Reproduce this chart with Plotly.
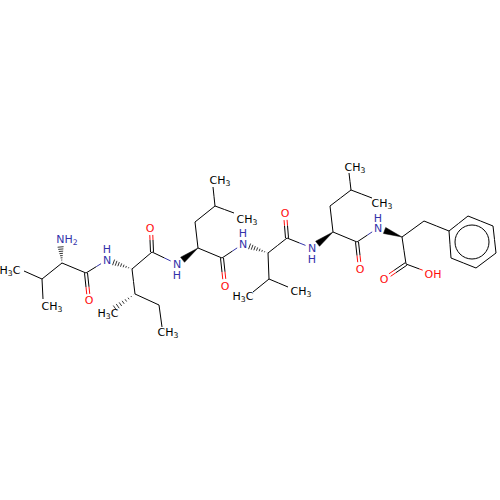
import numpy as np
import plotly.graph_objects as go

# atoms (pixel-like units, y pointing down)
atom_x = [24, 42, 43, 62, 60, 86, 89, 107, 132, 152, 151, 135, 115, 159, 162,
          177, 198, 195, 215, 213, 234, 222, 225, 243, 268, 287, 285, 269, 253, 288,
          312, 333, 330, 351, 349, 372, 357, 360, 378, 402, 406, 433, 384, 424,
          449, 468, 493, 496, 476, 451]
atom_y = [271, 279, 299, 263, 240, 273, 301, 260, 269, 252, 228, 294, 308, 305, 327,
          264, 248, 222, 206, 187, 213, 258, 286, 244, 253, 238, 213, 279, 292, 287,
          248, 232, 206, 190, 173, 198, 242, 269, 228, 237, 264, 274, 279, 221,
          231, 216, 226, 253, 268, 258]
atom_elem = ["C", "C", "C", "C", "N", "C", "O", "N", "C", "C", "O", "C", "C", "C", "C",
             "N", "C", "C", "C", "C", "C", "C", "O", "N", "C", "C", "O", "C", "C", "C",
             "N", "C", "C", "C", "C", "C", "C", "O", "N", "C", "C", "OH", "O", "C",
             "C", "C", "C", "C", "C", "C"]

single_bonds = [(0, 1), (1, 2), (1, 3), (3, 5), (5, 7), (8, 9), (8, 11), (11, 13), (13, 14),
                (9, 15), (16, 17), (17, 18), (18, 19), (18, 20), (16, 21), (21, 23),
                (24, 25), (24, 27), (27, 28), (27, 29), (25, 30), (31, 32), (32, 33),
                (33, 34), (33, 35), (31, 36), (36, 38), (39, 40), (40, 41), (39, 43),
                (43, 44), (44, 45), (45, 46), (46, 47), (47, 48), (48, 49), (49, 44)]
double_bonds = [(5, 6), (9, 10), (21, 22), (25, 26), (36, 37), (40, 42)]
hash_bonds = [(3, 4), (8, 7), (11, 12), (24, 23)]
wedge_bonds = [(16, 15), (31, 30), (39, 38)]

label_text = ["H<sub>3</sub>C", "CH<sub>3</sub>", "NH<sub>2</sub>", "O", "N", "H", "O",
              "H<sub>3</sub>C", "CH<sub>3</sub>", "N", "H", "CH<sub>3</sub>", "CH<sub>3</sub>",
              "O", "N", "H", "O", "H<sub>3</sub>C", "CH<sub>3</sub>", "N", "H",
              "CH<sub>3</sub>", "CH<sub>3</sub>", "O", "N", "H", "OH", "O"]
label_x = [10, 52, 67, 89, 107, 107, 150, 108, 168, 177, 177, 220, 247, 225, 243, 243, 285,
           243, 301, 312, 312, 355, 382, 360, 378, 378, 433, 384]
label_y = [271, 307, 240, 301, 261, 250, 229, 314, 333, 265, 276, 181, 220, 287, 245, 234,
           214, 297, 292, 249, 260, 168, 204, 270, 229, 219, 275, 280]
label_color = ["black", "black", "blue", "red", "blue", "blue", "red", "black", "black", "blue",
               "blue", "black", "black", "red", "blue", "blue", "red", "black", "black", "blue",
               "blue", "black", "black", "red", "blue", "blue", "red", "red"]

ring_center = (472, 242)
ring_radius = 17

BLUE = "#3333aa"
RED = "#ff0d0d"
colors = {"black": "#000000", "blue": BLUE, "red": RED}
trim = {"C": 0, "N": 7, "O": 7, "OH": 11}
elem_color = {"C": "#000000", "N": BLUE, "O": RED, "OH": RED}

segs = {"#000000": ([], []), BLUE: ([], []), RED: ([], [])}
hash_x, hash_y = [], []


def add_seg(color, p, q):
    segs[color][0].extend([p[0], q[0], None])
    segs[color][1].extend([p[1], q[1], None])


def add_bond(i, j, off=0.0):
    a = np.array([atom_x[i], atom_y[i]], float)
    b = np.array([atom_x[j], atom_y[j]], float)
    d = b - a
    ln = np.hypot(*d)
    u = d / ln
    n = np.array([-u[1], u[0]])
    a2 = a + u * trim[atom_elem[i]] + n * off
    b2 = b - u * trim[atom_elem[j]] + n * off
    m = (a + b) / 2 + n * off
    add_seg(elem_color[atom_elem[i]], a2, m)
    add_seg(elem_color[atom_elem[j]], m, b2)


for i, j in single_bonds:
    add_bond(i, j)
for i, j in double_bonds:
    add_bond(i, j, 1.5)
    add_bond(i, j, -1.5)

fig = go.Figure()

# hashed stereo bonds, narrow end on the stereocentre
for i, j in hash_bonds:
    a = np.array([atom_x[i], atom_y[i]], float)
    b = np.array([atom_x[j], atom_y[j]], float)
    u = (b - a) / np.hypot(*(b - a))
    n = np.array([-u[1], u[0]])
    end = b - u * (7 if atom_elem[j] != "C" else 0)
    for t in np.linspace(0.05, 1, 8):
        p = a + (end - a) * t
        w = 3.0 * t
        hash_x.extend([(p - n * w)[0], (p + n * w)[0], None])
        hash_y.extend([(p - n * w)[1], (p + n * w)[1], None])

for color, (xs, ys) in segs.items():
    fig.add_trace(go.Scatter(x=xs, y=ys, mode="lines", line=dict(color=color, width=1),
                             hoverinfo="skip", showlegend=False))
fig.add_trace(go.Scatter(x=hash_x, y=hash_y, mode="lines", line=dict(color="#000000", width=0.8),
                         hoverinfo="skip", showlegend=False))

# solid wedges
for i, j in wedge_bonds:
    a = np.array([atom_x[i], atom_y[i]], float)
    b = np.array([atom_x[j], atom_y[j]], float)
    u = (b - a) / np.hypot(*(b - a))
    n = np.array([-u[1], u[0]])
    end = b - u * 7
    poly = [a, end + n * 3.2, end - n * 3.2, a]
    fig.add_trace(go.Scatter(x=[p[0] for p in poly], y=[p[1] for p in poly], mode="lines",
                             fill="toself", fillcolor="#000000", line=dict(color="#000000", width=0.5),
                             hoverinfo="skip", showlegend=False))

fig.add_trace(go.Scatter(x=label_x, y=label_y, mode="text", text=label_text,
                         textposition="middle center",
                         textfont=dict(family="DejaVu Sans", size=11,
                                       color=[colors[c] for c in label_color]),
                         hoverinfo="skip", showlegend=False))

fig.add_shape(type="circle", xref="x", yref="y",
              x0=ring_center[0] - ring_radius, x1=ring_center[0] + ring_radius,
              y0=ring_center[1] - ring_radius, y1=ring_center[1] + ring_radius,
              line=dict(color="#000000", width=1))

fig.update_xaxes(range=[0, 500], visible=False)
fig.update_yaxes(range=[500, 0], visible=False)
fig.update_layout(width=500, height=500, margin=dict(l=0, r=0, t=0, b=0),
                  plot_bgcolor="white", paper_bgcolor="white", showlegend=False)
# the browser's default body margin would push the plot off by 8px
fig.write_html("out.html", config={"displayModeBar": False},
               post_script="document.body.style.margin='0';")
